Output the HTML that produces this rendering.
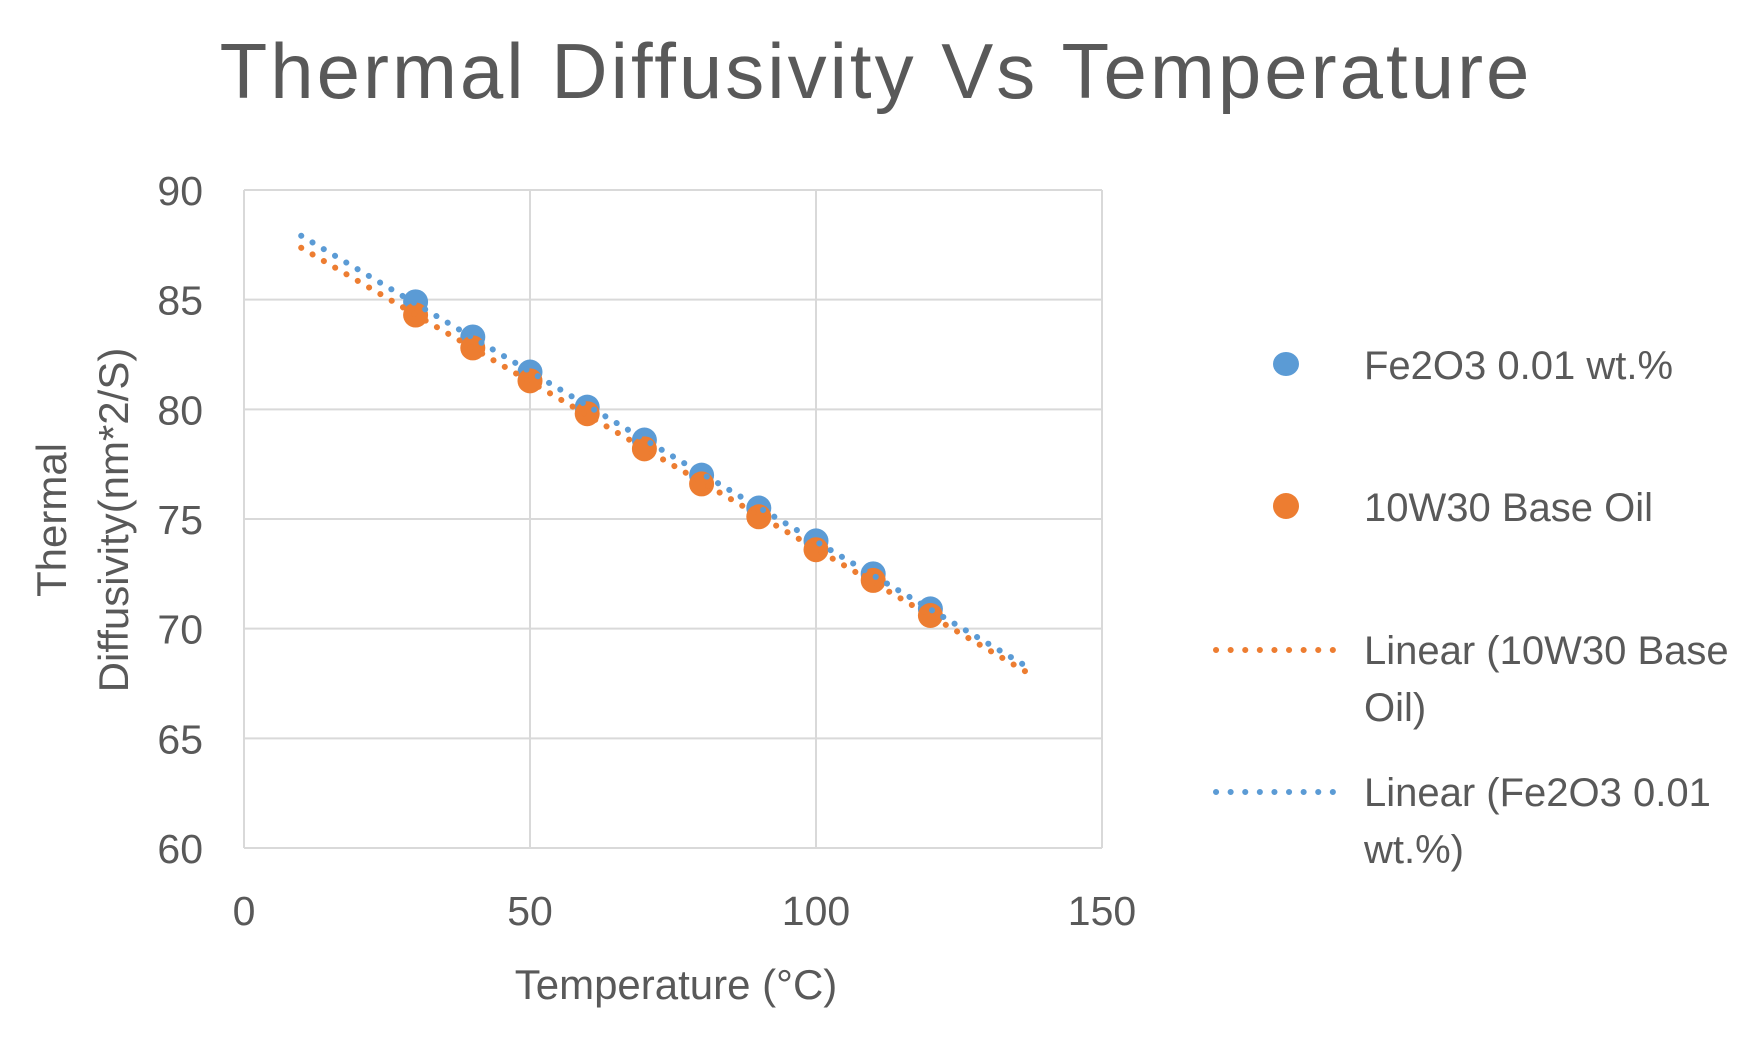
<!DOCTYPE html>
<html><head><meta charset="utf-8"><style>
html,body{margin:0;padding:0;background:#fff;}
svg text{font-family:"Liberation Sans",sans-serif;fill:#595959;}
</style></head><body>
<svg id="chart" width="1757" height="1040" viewBox="0 0 1757 1040">
<text x="876" y="98" font-size="78" letter-spacing="3" text-anchor="middle">Thermal Diffusivity Vs Temperature</text>
<g id="grid"></g>
<g id="axes"></g>
<g id="series"></g>
<text x="676" y="999" font-size="42" text-anchor="middle">Temperature (°C)</text>
<g transform="translate(66,520) rotate(-90)">
<text x="0" y="0" font-size="42" text-anchor="middle">Thermal</text>
<text x="0" y="62" font-size="42" text-anchor="middle">Diffusivity(nm*2/S)</text>
</g>
<g>
<g>
<ellipse cx="1286" cy="364" rx="13" ry="12" fill="#5b9bd5"/>
<text x="1364" y="379" font-size="40">Fe2O3 0.01 wt.%</text></g>
<g>
<circle cx="1286" cy="506" r="13" fill="#ed7d31"/>
<text x="1364" y="521" font-size="40">10W30 Base Oil</text></g>
<g>
<line x1="1216" y1="650" x2="1346" y2="650" stroke="#ed7d31" stroke-width="6" stroke-dasharray="0.1 14.5" stroke-linecap="round"/>
<text x="1364" y="664" font-size="40">Linear (10W30 Base</text>
<text x="1364" y="721" font-size="40">Oil)</text></g>
<g>
<line x1="1216" y1="792" x2="1346" y2="792" stroke="#5b9bd5" stroke-width="6" stroke-dasharray="0.1 14.5" stroke-linecap="round"/>
<text x="1364" y="806" font-size="40">Linear (Fe2O3 0.01</text>
<text x="1364" y="863" font-size="40">wt.%)</text></g>
</g>
</svg>
<script>
const temps=[30,40,50,60,70,80,90,100,110,120];
const fe2o3=[84.9,83.3,81.7,80.1,78.6,77.0,75.5,74.0,72.5,70.9];
const baseOil=[84.3,82.8,81.3,79.8,78.2,76.6,75.1,73.6,72.2,70.6];
const xTicks=[0,50,100,150];
const yTicks=[60,65,70,75,80,85,90];
const trendRange=[10,138];

const L=244,R=1102,T=190,B=848;
const xs=v=>L+(v-0)/(150-0)*(R-L);
const ys=v=>B-(v-60)/(90-60)*(B-T);
const NS="http://www.w3.org/2000/svg";
function mk(tag,attrs,parent){const e=document.createElementNS(NS,tag);for(const k in attrs)e.setAttribute(k,attrs[k]);parent.appendChild(e);return e;}
const grid=document.getElementById('grid'),axes=document.getElementById('axes'),ser=document.getElementById('series');
yTicks.forEach(t=>{
  const l=mk('line',{x1:L,x2:R,y1:ys(t),y2:ys(t),stroke:'#d9d9d9','stroke-width':2},grid);
  
  
  const tx=mk('text',{x:203,y:ys(t)+15,'font-size':41,'text-anchor':'end'},axes);
  tx.textContent=t;
  
  
});
xTicks.forEach(t=>{
  const l=mk('line',{x1:xs(t),x2:xs(t),y1:T,y2:B,stroke:'#d9d9d9','stroke-width':2},grid);
  
  
  const tx=mk('text',{x:xs(t),y:925,'font-size':41,'text-anchor':'middle'},axes);
  tx.textContent=t;
  
  
});
function fit(xv,yv){const n=xv.length;const mx=xv.reduce((a,b)=>a+b)/n,my=yv.reduce((a,b)=>a+b)/n;let sxy=0,sxx=0;for(let i=0;i<n;i++){sxy+=(xv[i]-mx)*(yv[i]-my);sxx+=(xv[i]-mx)**2;}const m=sxy/sxx;return [m,my-m*mx];}
function points(vals,color,name){
  vals.forEach((v,i)=>{
    const c=mk('circle',{cx:xs(temps[i]),cy:ys(v),r:12.5,fill:color},ser);
    
    
  });
}
function trend(vals,color,name){
  const [m,b]=fit(temps,vals);
  const l=mk('line',{x1:xs(trendRange[0]),y1:ys(m*trendRange[0]+b),x2:xs(trendRange[1]),y2:ys(m*trendRange[1]+b),stroke:color,'stroke-width':6,'stroke-dasharray':'0.1 13','stroke-linecap':'round'},ser);
  
  
}
points(fe2o3,'#5b9bd5','fe2o3');
points(baseOil,'#ed7d31','base-oil');
trend(baseOil,'#ed7d31','trendline-base-oil');
trend(fe2o3,'#5b9bd5','trendline-fe2o3');
</script>
</body></html>
